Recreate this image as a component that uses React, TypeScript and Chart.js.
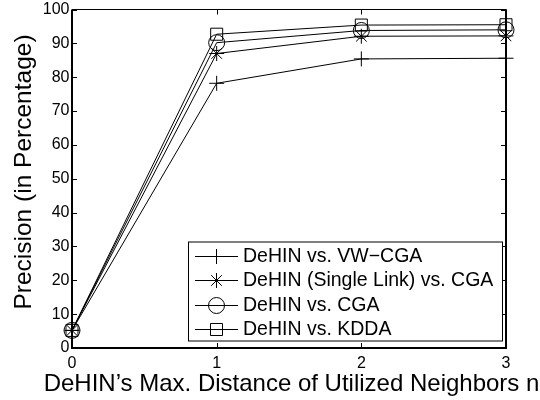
import React, { useEffect, useRef } from 'react';
import { Chart, registerables } from 'chart.js';
import { drawPoint } from 'chart.js/helpers';

Chart.register(...registerables);

const xValues = [0, 1, 2, 3];
const seriesNames = [
  'DeHIN vs. VW\u2212CGA',
  'DeHIN (Single Link) vs. CGA',
  'DeHIN vs. CGA',
  'DeHIN vs. KDDA',
];
const vwCga = [5.2, 78.2, 85.4, 85.6];
const singleLinkCga = [5.2, 87.0, 92.1, 92.2];
const cga = [5.2, 90.2, 93.8, 94.0];
const kdda = [5.2, 92.7, 95.4, 95.5];
const seriesValues = [vwCga, singleLinkCga, cga, kdda];
const markerStyles = ['cross', 'star', 'circle', 'rect'];
const markerRadii = [7.5, 7.5, 8, 8.5];

const xTitle = 'DeHIN\u2019s Max. Distance of Utilized Neighbors n';
const yTitle = 'Precision (in Percentage)';
const FONT = "'Liberation Sans', Arial, Helvetica, sans-serif";

const framePlugin = {
  id: 'frame',
  afterDatasetsDraw(chart: any) {
    const { ctx, chartArea, scales } = chart;
    const { left, right, top, bottom } = chartArea;
    const x = scales.x;
    const y = scales.y;
    const line = (x1: number, y1: number, x2: number, y2: number) => {
      ctx.beginPath();
      ctx.moveTo(x1, y1);
      ctx.lineTo(x2, y2);
      ctx.stroke();
    };
    ctx.save();
    ctx.strokeStyle = '#000';
    ctx.lineWidth = 1;
    const tl = 5;
    x.ticks.forEach((t: any) => {
      const px = Math.round(x.getPixelForValue(t.value)) + 0.5;
      line(px, bottom, px, bottom - tl);
      line(px, top, px, top + tl);
    });
    y.ticks.forEach((t: any) => {
      const py = Math.round(y.getPixelForValue(t.value)) + 0.5;
      line(left, py, left + tl, py);
      line(right, py, right - tl, py);
    });
    ctx.lineWidth = 2;
    line(left, top, left, bottom + 1);
    line(left - 1, bottom, right + 1, bottom);
    line(right, bottom, right, top);
    ctx.lineWidth = 1.2;
    line(left, top, right, top);

    // legend
    const lx0 = 188, ly0 = 241.5, lx1 = 503, ly1 = 341.5;
    ctx.fillStyle = '#fff';
    ctx.fillRect(lx0, ly0, lx1 - lx0, ly1 - ly0);
    ctx.lineWidth = 1;
    ctx.strokeStyle = '#000';
    ctx.strokeRect(lx0 + 0.5, ly0 + 0.5, lx1 - lx0 - 1, ly1 - ly0 - 1);
    const rows = [255.5, 280, 304.5, 329];
    ctx.font = `19.5px ${FONT}`;
    ctx.textBaseline = 'middle';
    ctx.textAlign = 'left';
    seriesNames.forEach((name, i) => {
      const ry = Math.round(rows[i]) + 0.5;
      ctx.strokeStyle = '#000';
      ctx.lineWidth = 1;
      line(195, ry, 238, ry);
      ctx.fillStyle = 'rgba(0,0,0,0)';
      drawPoint(ctx, { pointStyle: markerStyles[i] as any, radius: markerRadii[i], rotation: 0, borderWidth: 1 }, 216.5, ry);
      ctx.fillStyle = '#000';
      ctx.fillText(name, 243, rows[i] + 1);
    });

    // axis titles
    ctx.fillStyle = '#000';
    ctx.font = `24px ${FONT}`;
    ctx.textAlign = 'center';
    ctx.textBaseline = 'alphabetic';
    ctx.fillText(xTitle, 291.5, 391);
    ctx.save();
    ctx.translate(30.5, 172);
    ctx.rotate(-Math.PI / 2);
    ctx.font = `24.5px ${FONT}`;
    ctx.fillText(yTitle, 0, 0);
    ctx.restore();
    ctx.restore();
  },
};

export default function App() {
  const ref = useRef<HTMLCanvasElement>(null);
  useEffect(() => {
    if (!ref.current) return;
    const chart = new Chart(ref.current, {
      type: 'line',
      data: {
        datasets: seriesValues.map((vals, i) => ({
          label: seriesNames[i],
          data: xValues.map((xv, j) => ({ x: xv, y: vals[j] })),
          borderColor: '#000',
          borderWidth: 1,
          backgroundColor: 'rgba(0,0,0,0)',
          pointStyle: markerStyles[i] as any,
          pointRadius: markerRadii[i],
          pointBorderColor: '#000',
          pointBackgroundColor: 'rgba(0,0,0,0)',
          pointBorderWidth: 1,
          tension: 0,
          fill: false,
          clip: false as any,
        })),
      },
      options: {
        animation: false,
        responsive: false,
        devicePixelRatio: 1,
        layout: { padding: { left: 0, top: 7.5, right: 34, bottom: 0 } },
        plugins: { legend: { display: false }, tooltip: { enabled: false } },
        scales: {
          x: {
            type: 'linear',
            min: 0,
            max: 3,
            grid: { display: false, drawTicks: false },
            border: { display: false },
            ticks: { stepSize: 1, color: '#000', font: { family: FONT, size: 16 }, padding: 6 },
            afterFit: (s: any) => {
              s.height = 52;
              s.paddingLeft = 0;
              s.paddingRight = 0;
            },
          },
          y: {
            type: 'linear',
            min: 0,
            max: 100,
            grid: { display: false, drawTicks: false },
            border: { display: false },
            ticks: { stepSize: 10, color: '#000', font: { family: FONT, size: 16 }, padding: 2.5 },
            afterFit: (s: any) => {
              s.width = 72;
              s.paddingTop = 0;
              s.paddingBottom = 0;
            },
          },
        },
      },
      plugins: [framePlugin],
    });
    return () => chart.destroy();
  }, []);
  return (
    <div style={{ position: 'absolute', left: 0, top: 0, width: 540, height: 400 }}>
      <canvas ref={ref} width={540} height={400} />
    </div>
  );
}
